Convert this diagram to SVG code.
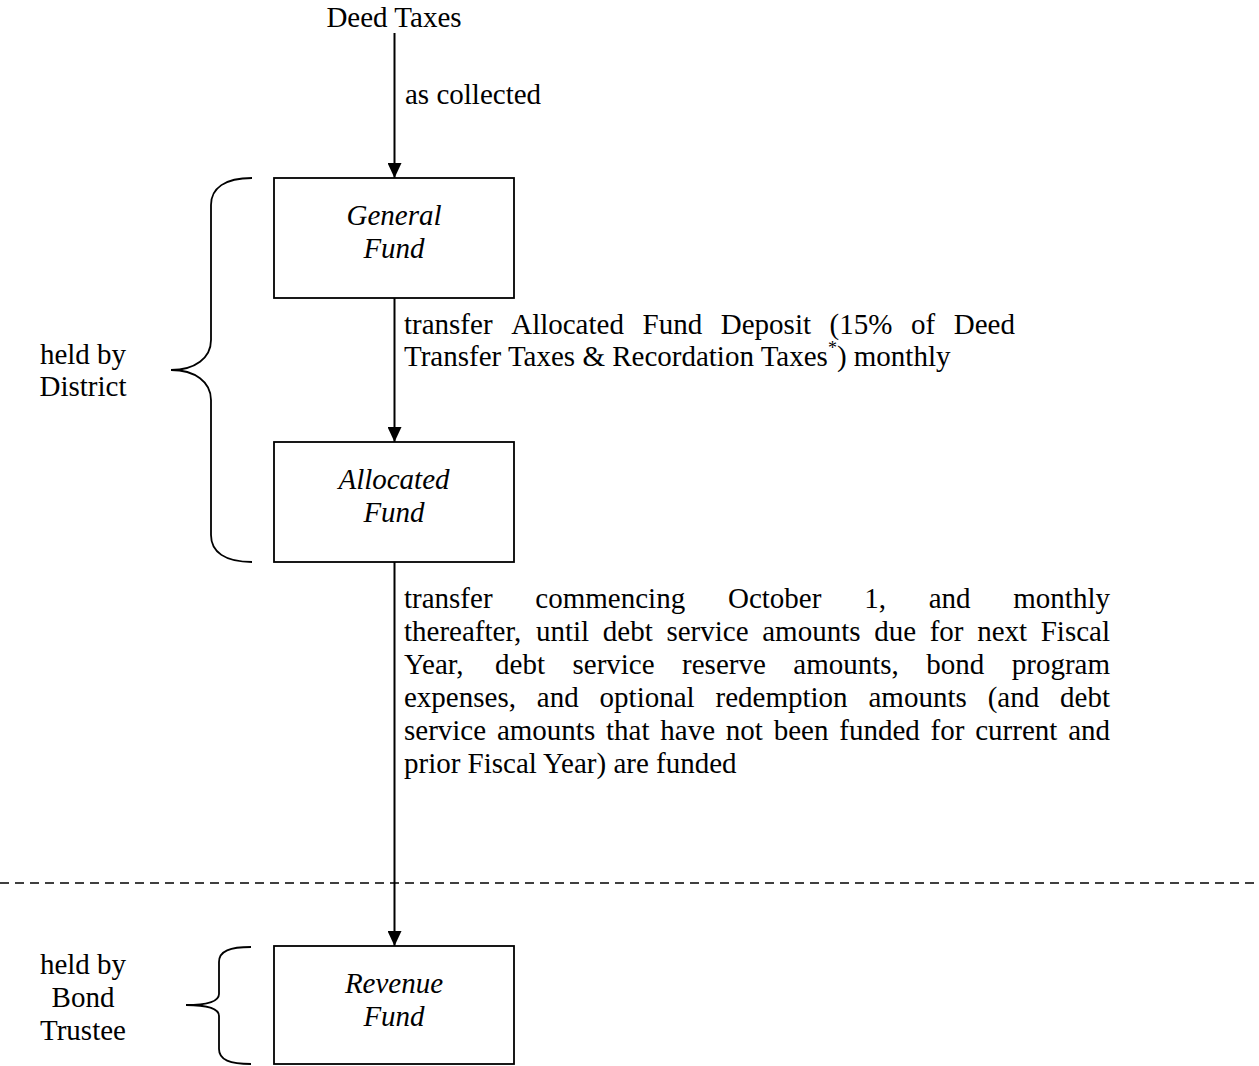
<svg xmlns="http://www.w3.org/2000/svg" width="1259" height="1066" viewBox="0 0 1259 1066">
<defs>
<marker id="arr" viewBox="0 0 15 14" refX="15" refY="7" markerWidth="15" markerHeight="14" markerUnits="userSpaceOnUse" orient="auto">
<path d="M0,0 L15,7 L0,14 Z" fill="#000"/>
</marker>
<style>
text{font-family:"Liberation Serif","Times New Roman",serif;font-size:29px;fill:#000}
.it{font-style:italic}
.box{fill:#fff;stroke:#000;stroke-width:1.8}
.edge{stroke:#000;stroke-width:2;fill:none}
.brace{stroke:#000;stroke-width:1.8;fill:none}
</style>
</defs>
<rect width="1259" height="1066" fill="#fff"/>

<line x1="0" y1="883" x2="1259" y2="883" stroke="#000" stroke-width="1.4" stroke-dasharray="9,6"/>

<g id="connectors">
<line class="edge" x1="394.5" y1="33" x2="394.5" y2="178" marker-end="url(#arr)"/>
<line class="edge" x1="394.5" y1="298" x2="394.5" y2="442" marker-end="url(#arr)"/>
<line class="edge" x1="394.5" y1="562" x2="394.5" y2="946" marker-end="url(#arr)"/>
<text x="405" y="104">as collected</text>
<text y="334"><tspan x="404">transfer</tspan><tspan x="511.2">Allocated</tspan><tspan x="642.6">Fund</tspan><tspan x="720.8">Deposit</tspan><tspan x="829.6">(15%</tspan><tspan x="911">of</tspan><tspan x="953.8">Deed</tspan></text>
<text x="404" y="366">Transfer Taxes &amp; Recordation Taxes<tspan dy="-12" font-size="18">*</tspan><tspan dy="12">) monthly</tspan></text>
<text y="608"><tspan x="404">transfer</tspan><tspan x="535.35">commencing</tspan><tspan x="727.94">October</tspan><tspan x="864.13">1,</tspan><tspan x="928.66">and</tspan><tspan x="1013.32">monthly</tspan></text>
<text y="641"><tspan x="404">thereafter,</tspan><tspan x="536">until</tspan><tspan x="602.84">debt</tspan><tspan x="666.43">service</tspan><tspan x="762.21">amounts</tspan><tspan x="874.14">due</tspan><tspan x="929.67">for</tspan><tspan x="977.13">next</tspan><tspan x="1040.72">Fiscal</tspan></text>
<text y="674"><tspan x="404">Year,</tspan><tspan x="495.07">debt</tspan><tspan x="572.48">service</tspan><tspan x="682.08">reserve</tspan><tspan x="793.27">amounts,</tspan><tspan x="926.27">bond</tspan><tspan x="1011.74">program</tspan></text>
<text y="707"><tspan x="404">expenses,</tspan><tspan x="536.82">and</tspan><tspan x="599.58">optional</tspan><tspan x="715.52">redemption</tspan><tspan x="868.5">amounts</tspan><tspan x="987.66">(and</tspan><tspan x="1060.07">debt</tspan></text>
<text y="740"><tspan x="404">service</tspan><tspan x="496.93">amounts</tspan><tspan x="606.01">that</tspan><tspan x="660.31">have</tspan><tspan x="725.86">not</tspan><tspan x="773.72">been</tspan><tspan x="839.27">funded</tspan><tspan x="930.6">for</tspan><tspan x="975.21">current</tspan><tspan x="1068.14">and</tspan></text>
<text x="404" y="773">prior Fiscal Year) are funded</text>
</g>

<g id="deed-taxes">
<text x="394" y="27" text-anchor="middle">Deed Taxes</text>
</g>

<g id="general-fund">
<rect class="box" x="274" y="178" width="240" height="120"/>
<text class="it" x="394" y="225" text-anchor="middle">General</text>
<text class="it" x="394" y="258" text-anchor="middle">Fund</text>
</g>

<g id="allocated-fund">
<rect class="box" x="274" y="442" width="240" height="120"/>
<text class="it" x="394" y="489" text-anchor="middle">Allocated</text>
<text class="it" x="394" y="522" text-anchor="middle">Fund</text>
</g>

<g id="revenue-fund">
<rect class="box" x="274" y="946" width="240" height="118"/>
<text class="it" x="394" y="993" text-anchor="middle">Revenue</text>
<text class="it" x="394" y="1026" text-anchor="middle">Fund</text>
</g>

<g id="district-brace">
<path class="brace" d="M252,178 C225,178 211,188 211,205 L211,340 C211,358 195,370 171,370 C195,370 211,382 211,400 L211,535 C211,552 225,562 252,562"/>
<text x="83" y="364" text-anchor="middle">held by</text>
<text x="83" y="396" text-anchor="middle">District</text>
</g>

<g id="trustee-brace">
<path class="brace" d="M251,947 C230,947 219,951 219,962 L219,994 C219,1001 210,1005 186,1005 C210,1005 219,1009 219,1016 L219,1049 C219,1060 230,1064 251,1064"/>
<text x="83" y="974" text-anchor="middle">held by</text>
<text x="83" y="1007" text-anchor="middle">Bond</text>
<text x="83" y="1040" text-anchor="middle">Trustee</text>
</g>
</svg>
